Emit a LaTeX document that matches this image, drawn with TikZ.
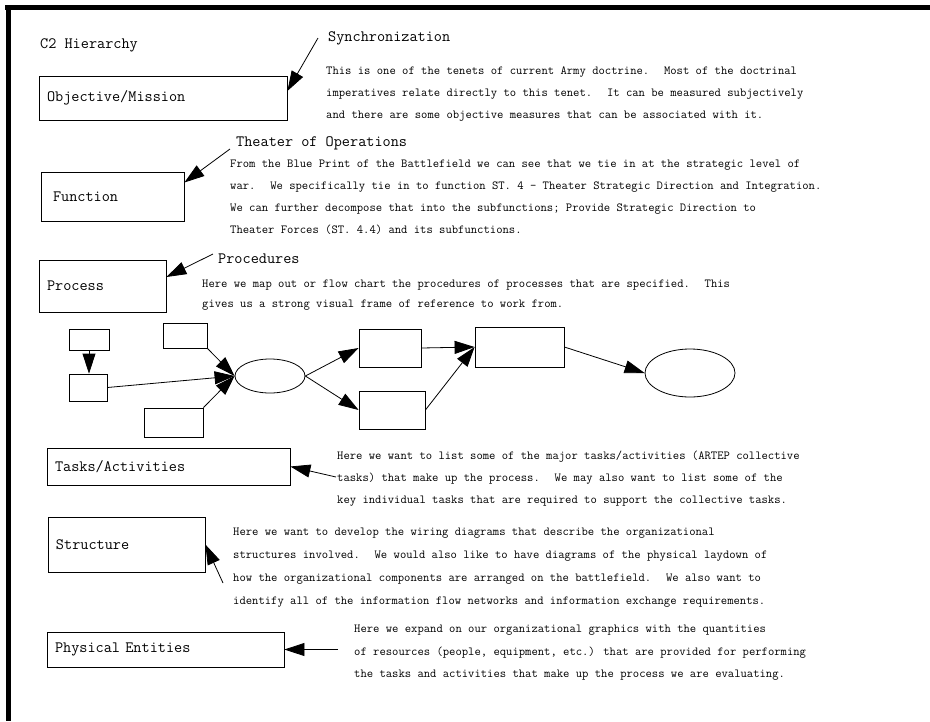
\documentclass[tikz,border=0pt]{standalone}
\usepackage{fontspec}
\usetikzlibrary{shapes.geometric, arrows.meta}

\begin{document}
\begin{tikzpicture}[
    x=1pt, y=-1pt,
    level/.style={rectangle, draw, line width=0.8pt, inner xsep=8pt, inner ysep=0pt, align=left, font=\ttfamily\fontsize{15.8}{18}\selectfont},
    heading/.style={anchor=base west, inner sep=0pt, font=\ttfamily\fontsize{15.8}{18}\selectfont},
    note/.style={anchor=north west, inner sep=0pt, align=left, font=\ttfamily\fontsize{12.3}{22}\selectfont},
    stepbox/.style={rectangle, draw, line width=0.8pt, inner sep=0pt},
    oval/.style={ellipse, draw, line width=0.8pt, inner sep=0pt},
    arrow/.style={-{Triangle[length=20pt, width=13pt]}, line width=0.8pt}
]
    \useasboundingbox (0,0) rectangle (930,721);
    % page frame (top and left edge only)
    \draw[line width=5pt] (5,7) -- (930,7);
    \draw[line width=5pt] (8.5,5) -- (8.5,721);

    \node[heading] (title) at (40,48) {C2 Hierarchy};

    % hierarchy levels
    \node[level, text width=232pt, minimum height=44pt] (objective) at (163,98) {Objective/Mission};
    \node[level, inner xsep=12pt, text width=119pt, minimum height=49pt] (function) at (112.5,196.5) {Function};
    \node[level, text width=111pt, minimum height=52pt] (process) at (102.5,286) {Process};
    \node[level, text width=227pt, minimum height=37pt] (tasks) at (168.5,466.5) {Tasks/Activities};
    \node[level, text width=141pt, minimum height=55pt] (structure) at (126.5,544.5) {Structure};
    \node[level, text width=221pt, minimum height=35pt] (physical) at (165.5,649.5) {Physical Entities};

    % headings and notes
    \node[heading] (sync) at (328,41) {Synchronization};
    \node[note] (syncnote) at (326,67) {This is one of the tenets of current Army doctrine.~ Most of the doctrinal\\imperatives relate directly to this tenet.~ It can be measured subjectively\\and there are some objective measures that can be associated with it.};
    \node[heading] (theater) at (236,146) {Theater of Operations};
    \node[note] (funcnote) at (230,160) {From the Blue Print of the Battlefield we can see that we tie in at the strategic level of\\war.~ We specifically tie in to function ST. 4 - Theater Strategic Direction and Integration.\\We can further decompose that into the subfunctions; Provide Strategic Direction to\\Theater Forces (ST. 4.4) and its subfunctions.};
    \node[heading] (procedures) at (218,263) {Procedures};
    \node[note, font=\ttfamily\fontsize{12.3}{20}\selectfont] (procnote) at (202,280) {Here we map out or flow chart the procedures of processes that are specified.~ This\\gives us a strong visual frame of reference to work from.};
    \node[note] (tasknote) at (337,451) {Here we want to list some of the major tasks/activities (ARTEP collective\\tasks) that make up the process.~ We may also want to list some of the\\key individual tasks that are required to support the collective tasks.};
    \node[note, font=\ttfamily\fontsize{12.3}{23}\selectfont] (structnote) at (233,528) {Here we want to develop the wiring diagrams that describe the organizational\\structures involved.~ We would also like to have diagrams of the physical laydown of\\how the organizational components are arranged on the battlefield.~ We also want to\\identify all of the information flow networks and information exchange requirements.};
    \node[note, font=\ttfamily\fontsize{12.3}{22.5}\selectfont] (physnote) at (354,625) {Here we expand on our organizational graphics with the quantities\\of resources (people, equipment, etc.) that are provided for performing\\the tasks and activities that make up the process we are evaluating.};

    % arrow tails
    \coordinate (synctail) at (318,38);
    \coordinate (theatertail) at (230,149);
    \coordinate (proctail) at (213,254);
    \coordinate (tasktail) at (336,477);
    \coordinate (structtail) at (223,583);
    \coordinate (phystail) at (338,649.5);

    \draw[arrow] (synctail) -- ([yshift=7pt]objective.east);
    \draw[arrow] (theatertail) -- ([yshift=14pt]function.east);
    \draw[arrow] (proctail) -- ([yshift=9pt]process.east);
    \draw[arrow] (tasktail) -- (tasks.east);
    \draw[arrow] (structtail) -- (structure.east);
    \draw[arrow] (phystail) -- (physical.east);

    % flow chart of the process
    \node[stepbox, minimum width=40pt, minimum height=21pt] (inA) at (89,339.5) {};
    \node[stepbox, minimum width=38pt, minimum height=27pt] (inB) at (88,387.5) {};
    \node[stepbox, minimum width=44pt, minimum height=25pt] (inC) at (185,335.5) {};
    \node[stepbox, minimum width=59pt, minimum height=29pt] (inD) at (173.5,422.5) {};
    \node[oval, minimum width=70pt, minimum height=34pt] (merge) at (270,376) {};
    \node[stepbox, minimum width=62pt, minimum height=38pt] (upper) at (390,348) {};
    \node[stepbox, minimum width=66pt, minimum height=38pt] (lower) at (392,410) {};
    \node[stepbox, minimum width=89pt, minimum height=40pt] (join) at (519.5,347) {};
    \node[oval, minimum width=90pt, minimum height=48pt] (result) at (690,373) {};

    \draw[arrow] (inA.south) -- (inA.south |- inB.north);
    \draw[arrow] (inB.east) -- (merge.west);
    \draw[arrow] (inC.south east) -- (merge.west);
    \draw[arrow] (inD.north east) -- (merge.west);
    \draw[arrow] (merge.east) -- (upper.west);
    \draw[arrow] (merge.east) -- (lower.west);
    \draw[arrow] (upper.east) -- (join.west);
    \draw[arrow] (lower.east) -- (join.west);
    \draw[arrow] (join.east) -- (result.west);
\end{tikzpicture}
\end{document}
